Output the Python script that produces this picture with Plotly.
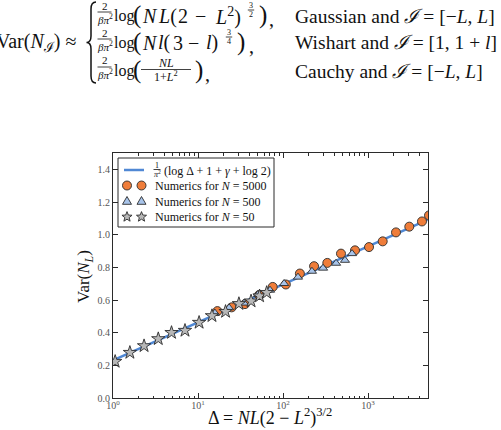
import math
import plotly.graph_objects as go

# ---------------- data ----------------
line_delta = [1, 5000]
line_var = [0.23, 1.09]

n5000_delta = [16.9, 24.9, 35.7, 52.2, 75.7, 108, 158, 232, 332, 481, 703, 1028, 1489, 2135, 3060, 4316, 5220]
n5000_var = [0.532, 0.555, 0.575, 0.630, 0.680, 0.695, 0.762, 0.807, 0.827, 0.884, 0.904, 0.924, 0.959, 1.014, 1.049, 1.081, 1.118]

n500_delta = [15.8, 23.2, 34.8, 50.8, 70.3, 103, 150, 219, 296, 421, 536, 649]
n500_var = [0.520, 0.552, 0.581, 0.634, 0.660, 0.701, 0.740, 0.776, 0.795, 0.825, 0.843, 0.884]

n50_delta = [1.06, 1.58, 2.32, 3.41, 4.88, 7.03, 10.3, 14.6, 21.1, 30.3, 42.1, 53, 64.3]
n50_var = [0.223, 0.278, 0.319, 0.362, 0.400, 0.413, 0.462, 0.503, 0.529, 0.577, 0.593, 0.624, 0.645]

x_tickvals = [1, 10, 100, 1000]
x_ticktext = ["10<sup>0</sup>", "10<sup>1</sup>", "10<sup>2</sup>", "10<sup>3</sup>"]
y_tickvals = [0.0, 0.2, 0.4, 0.6, 0.8, 1.0, 1.2, 1.4]
y_ticktext = ["0.0", "0.2", "0.4", "0.6", "0.8", "1.0", "1.2", "1.4"]

legend_texts = [
    "(log Δ + 1 + <i>γ</i> + log 2)",
    "Numerics for <i>N</i> = 5000",
    "Numerics for <i>N</i> = 500",
    "Numerics for <i>N</i> = 50",
]

# ---------------- styles ----------------
W, H = 501, 430
L, R, T, B = 113, 428, 153, 398
SERIF = "Liberation Serif"
DARK = "#2b2b2b"
LINE_C = "#5088d4"
ORANGE = "#ef7d3a"
BLUE_T = "#a8c4ea"
GREY_S = "#b8b8b8"


def px(x):
    return (x - L) / (R - L)


def py(y):
    return (B - y) / (B - T)


annotations = []
shapes = []


def text(x, y, s, size, xanchor="left", angle=0, color="#111"):
    annotations.append(dict(
        x=px(x), y=py(y), xref="paper", yref="paper", text=s, showarrow=False,
        xanchor=xanchor, yanchor="middle", textangle=angle,
        font=dict(family=SERIF, size=size, color=color),
    ))


def hline(x0, x1, y, w=0.8, color="#111"):
    shapes.append(dict(type="line", xref="paper", yref="paper",
                       x0=px(x0), x1=px(x1), y0=py(y), y1=py(y),
                       line=dict(color=color, width=w)))


def frac(xc, yc, num, den, size, half, gap):
    text(xc, yc - gap, num, size, xanchor="center")
    hline(xc - half, xc + half, yc)
    text(xc, yc + gap, den, size, xanchor="center")


def P(x, y):
    return f"{px(x)},{py(y)}"


def poly(points, fill):
    path = "M " + " L ".join(P(x, y) for x, y in points) + " Z"
    shapes.append(dict(type="path", xref="paper", yref="paper", path=path,
                       fillcolor=fill, line=dict(color=DARK, width=0.9)))


# ---------------- equation block ----------------
BIG = 19.5
MATH = 20
text(78, 43, "Var(<i>N</i><sub>ℐ</sub>) ≈", 20, xanchor="right")

bp = [(96, 2), (91, 2), (91, 9), (91, 36), (91, 42.5), (86.5, 42.5), (91, 42.5), (91, 49), (91, 76), (91, 83), (96, 83)]
brace = (f"M {P(*bp[0])} Q {P(*bp[1])} {P(*bp[2])} L {P(*bp[3])} Q {P(*bp[4])} {P(*bp[5])} "
         f"Q {P(*bp[6])} {P(*bp[7])} L {P(*bp[8])} Q {P(*bp[9])} {P(*bp[10])}")
shapes.append(dict(type="path", xref="paper", yref="paper", path=brace,
                   line=dict(color="#111", width=1.5)))

rows_y = [15, 42, 70]
for yc in rows_y:
    frac(104.5, yc - 3, "2", "<i>βπ</i><sup>2</sup>", 11, 7, 6.5)
    text(112, yc + 1, "log", 16)
    text(131, yc, "(", 25)

# row 1
text(140, 16, "<i>N</i>", MATH)
text(156, 16, "<i>L</i>(", MATH)
text(175.5, 16, "2", MATH)
text(200, 16, "−", MATH, xanchor="center")
text(213, 16, "<i>L</i><sup>2</sup>)", MATH)
frac(251, 10, "3", "2", 8, 3.2, 4.8)
text(257, 15, ")", 25)
text(267, 19, ",", MATH)
text(293, 16, "Gaussian and <i>ℐ</i> = [−<i>L</i>, <i>L</i>]", BIG)
# row 2
text(140, 43, "<i>N</i>", MATH)
text(156, 43, "<i>l</i>(", MATH)
text(170.5, 43, "3", MATH)
text(193, 43, "−", MATH, xanchor="center")
text(204, 43, "<i>l</i>)", MATH)
frac(229, 37, "3", "4", 8, 3.2, 4.8)
text(235, 42, ")", 25)
text(247, 46, ",", MATH)
text(293, 43, "Wishart and <i>ℐ</i> = [1, 1 + <i>l</i>]", BIG)
# row 3
frac(166, 69.5, "<i>NL</i>", "1+<i>L</i><sup>2</sup>", 12, 25, 7)
text(193, 70, ")", 25)
text(203, 74, ",", MATH)
text(293, 71, "Cauchy and <i>ℐ</i> = [−<i>L</i>, <i>L</i>]", BIG)

# axis titles
text(85, 277, "Var(<i>N<sub>L</sub></i>)", 17, xanchor="center", angle=-90)
text(270, 417, "Δ = <i>NL</i>(2 − <i>L</i><sup>2</sup>)<sup>3/2</sup>", 18, xanchor="center")

# ---------------- custom legend (matplotlib style, two keys per entry) ----------------
LG_X0, LG_X1, LG_Y0, LG_Y1 = 118, 274, 158, 227
shapes.append(dict(type="rect", xref="paper", yref="paper",
                   x0=px(LG_X0), x1=px(LG_X1), y0=py(LG_Y1), y1=py(LG_Y0),
                   fillcolor="white", line=dict(color=DARK, width=1)))
row_c = [170, 185.5, 201, 216.5]
key_x = [127, 141.5]
TXT_X = 153
hline(124, 144, row_c[0], w=2.5, color=LINE_C)
for kx in key_x:
    cy = row_c[1]
    shapes.append(dict(type="circle", xref="paper", yref="paper",
                       x0=px(kx - 4.5), x1=px(kx + 4.5), y0=py(cy + 4.5), y1=py(cy - 4.5),
                       fillcolor=ORANGE, line=dict(color=DARK, width=0.9)))
    cy = row_c[2]
    poly([(kx, cy - 4.5), (kx + 4.5, cy + 3.3), (kx - 4.5, cy + 3.3)], BLUE_T)
    cy = row_c[3]
    star = []
    for k in range(10):
        rad = 5.3 if k % 2 == 0 else 2.3
        ang = -math.pi / 2 + k * math.pi / 5
        star.append((kx + rad * math.cos(ang), cy + 0.4 + rad * math.sin(ang)))
    poly(star, GREY_S)

frac(157, 169.5, "1", "<i>π</i><sup>2</sup>", 8, 3.5, 4.5)
text(161.5, 170.5, legend_texts[0], 12)
for i in range(1, 4):
    text(TXT_X, row_c[i] + 0.5, legend_texts[i], 12)

# ---------------- traces ----------------
fig = go.Figure()
fig.add_trace(go.Scatter(x=line_delta, y=line_var, mode="lines",
                         line=dict(color=LINE_C, width=2.5)))
fig.add_trace(go.Scatter(x=n5000_delta, y=n5000_var, mode="markers",
                         marker=dict(symbol="circle", size=9, color=ORANGE,
                                     line=dict(color=DARK, width=0.9))))
fig.add_trace(go.Scatter(x=n500_delta, y=n500_var, mode="markers",
                         marker=dict(symbol="triangle-up", size=8, color=BLUE_T,
                                     line=dict(color=DARK, width=0.9))))
fig.add_trace(go.Scatter(x=n50_delta, y=n50_var, mode="markers",
                         marker=dict(symbol="star", size=10, color=GREY_S,
                                     line=dict(color=DARK, width=0.9))))

minor_vals = [m * 10 ** d for d in range(0, 4) for m in range(2, 10) if m * 10 ** d < 5100]

axis_common = dict(showgrid=False, zeroline=False, ticks="inside", ticklen=5, tickwidth=1,
                   tickcolor=DARK, showline=True, linecolor=DARK, linewidth=1, mirror="ticks",
                   tickfont=dict(family=SERIF, size=10, color="#555"))

fig.update_layout(
    width=W, height=H, autosize=False,
    margin=dict(l=L, r=W - R, t=T, b=H - B, pad=0),
    paper_bgcolor="white", plot_bgcolor="white",
    xaxis=dict(type="log", range=[0, math.log10(5080)], tickmode="array",
               tickvals=x_tickvals, ticktext=x_ticktext, ticklabelstandoff=-2,
               minor=dict(tickmode="array", tickvals=minor_vals, ticks="inside", ticklen=2.5,
                          tickcolor=DARK, showgrid=False),
               **axis_common),
    yaxis=dict(range=[0, 1.5], tickmode="array", tickvals=y_tickvals, ticktext=y_ticktext,
               **axis_common),
    showlegend=False,
    annotations=annotations,
    shapes=shapes,
)

fig.write_html("out.html")
